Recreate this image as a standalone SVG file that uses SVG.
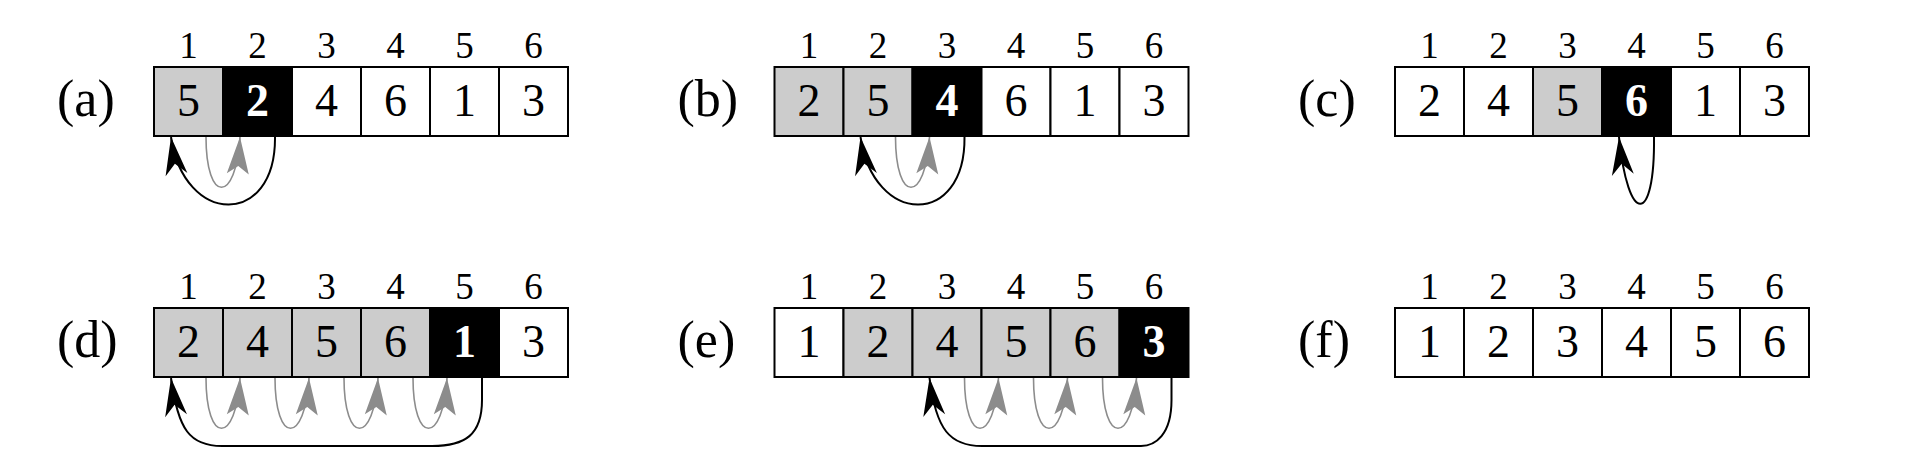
<svg xmlns="http://www.w3.org/2000/svg" width="1914" height="474" viewBox="0 0 1914 474">
<style>
.c{stroke:#000;stroke-width:2}
.w{fill:#fff}.g{fill:#cccccc}.k{fill:#000}
.d{font-family:"Liberation Serif",serif;font-size:46px;text-anchor:middle;fill:#000}
.db{font-family:"Liberation Serif",serif;font-size:46px;font-weight:bold;text-anchor:middle;fill:#fff}
.i{font-family:"Liberation Serif",serif;font-size:37px;text-anchor:middle;fill:#000}
.l{font-family:"Liberation Serif",serif;font-size:52px;fill:#000}
.ab{fill:none;stroke:#000;stroke-width:2}
.ag{fill:none;stroke:#8c8c8c;stroke-width:1.6}
</style>
<defs>
<marker id="hb" markerUnits="userSpaceOnUse" viewBox="-40 -13 42 26" markerWidth="42" markerHeight="26" refX="0" refY="0" orient="auto"><path d="M0,0 L-38,-11 L-27,0 L-38,11 Z" fill="#000"/></marker>
<marker id="hg" markerUnits="userSpaceOnUse" viewBox="-40 -13 42 26" markerWidth="42" markerHeight="26" refX="0" refY="0" orient="auto"><path d="M0,0 L-37,-11 L-29,0 L-37,11 Z" fill="#8c8c8c"/></marker>
</defs>

<g id="a">
<text class="l" x="57" y="116">(a)</text>
<rect class="c g" x="154" y="67" width="69" height="69"/><rect class="c k" x="223" y="67" width="69" height="69"/><rect class="c w" x="292" y="67" width="69" height="69"/><rect class="c w" x="361" y="67" width="69" height="69"/><rect class="c w" x="430" y="67" width="69" height="69"/><rect class="c w" x="499" y="67" width="69" height="69"/>
<text class="i" x="188.5" y="58">1</text><text class="i" x="257.5" y="58">2</text><text class="i" x="326.5" y="58">3</text><text class="i" x="395.5" y="58">4</text><text class="i" x="464.5" y="58">5</text><text class="i" x="533.5" y="58">6</text>
<text class="d" x="188.5" y="116">5</text><text class="db" x="257.5" y="116">2</text><text class="d" x="326.5" y="116">4</text><text class="d" x="395.5" y="116">6</text><text class="d" x="464.5" y="116">1</text><text class="d" x="533.5" y="116">3</text>
</g>

<g id="b">
<text class="l" x="677.5" y="116">(b)</text>
<rect class="c g" x="774.5" y="67" width="69" height="69"/><rect class="c g" x="843.5" y="67" width="69" height="69"/><rect class="c k" x="912.5" y="67" width="69" height="69"/><rect class="c w" x="981.5" y="67" width="69" height="69"/><rect class="c w" x="1050.5" y="67" width="69" height="69"/><rect class="c w" x="1119.5" y="67" width="69" height="69"/>
<text class="i" x="809" y="58">1</text><text class="i" x="878" y="58">2</text><text class="i" x="947" y="58">3</text><text class="i" x="1016" y="58">4</text><text class="i" x="1085" y="58">5</text><text class="i" x="1154" y="58">6</text>
<text class="d" x="809" y="116">2</text><text class="d" x="878" y="116">5</text><text class="db" x="947" y="116">4</text><text class="d" x="1016" y="116">6</text><text class="d" x="1085" y="116">1</text><text class="d" x="1154" y="116">3</text>
</g>

<g id="c">
<text class="l" x="1298" y="116">(c)</text>
<rect class="c w" x="1395" y="67" width="69" height="69"/><rect class="c w" x="1464" y="67" width="69" height="69"/><rect class="c g" x="1533" y="67" width="69" height="69"/><rect class="c k" x="1602" y="67" width="69" height="69"/><rect class="c w" x="1671" y="67" width="69" height="69"/><rect class="c w" x="1740" y="67" width="69" height="69"/>
<text class="i" x="1429.5" y="58">1</text><text class="i" x="1498.5" y="58">2</text><text class="i" x="1567.5" y="58">3</text><text class="i" x="1636.5" y="58">4</text><text class="i" x="1705.5" y="58">5</text><text class="i" x="1774.5" y="58">6</text>
<text class="d" x="1429.5" y="116">2</text><text class="d" x="1498.5" y="116">4</text><text class="d" x="1567.5" y="116">5</text><text class="db" x="1636.5" y="116">6</text><text class="d" x="1705.5" y="116">1</text><text class="d" x="1774.5" y="116">3</text>
</g>

<g id="d">
<text class="l" x="57" y="357">(d)</text>
<rect class="c g" x="154" y="308" width="69" height="69"/><rect class="c g" x="223" y="308" width="69" height="69"/><rect class="c g" x="292" y="308" width="69" height="69"/><rect class="c g" x="361" y="308" width="69" height="69"/><rect class="c k" x="430" y="308" width="69" height="69"/><rect class="c w" x="499" y="308" width="69" height="69"/>
<text class="i" x="188.5" y="299">1</text><text class="i" x="257.5" y="299">2</text><text class="i" x="326.5" y="299">3</text><text class="i" x="395.5" y="299">4</text><text class="i" x="464.5" y="299">5</text><text class="i" x="533.5" y="299">6</text>
<text class="d" x="188.5" y="357">2</text><text class="d" x="257.5" y="357">4</text><text class="d" x="326.5" y="357">5</text><text class="d" x="395.5" y="357">6</text><text class="db" x="464.5" y="357">1</text><text class="d" x="533.5" y="357">3</text>
</g>

<g id="e">
<text class="l" x="677.5" y="357">(e)</text>
<rect class="c w" x="774.5" y="308" width="69" height="69"/><rect class="c g" x="843.5" y="308" width="69" height="69"/><rect class="c g" x="912.5" y="308" width="69" height="69"/><rect class="c g" x="981.5" y="308" width="69" height="69"/><rect class="c g" x="1050.5" y="308" width="69" height="69"/><rect class="c k" x="1119.5" y="308" width="69" height="69"/>
<text class="i" x="809" y="299">1</text><text class="i" x="878" y="299">2</text><text class="i" x="947" y="299">3</text><text class="i" x="1016" y="299">4</text><text class="i" x="1085" y="299">5</text><text class="i" x="1154" y="299">6</text>
<text class="d" x="809" y="357">1</text><text class="d" x="878" y="357">2</text><text class="d" x="947" y="357">4</text><text class="d" x="1016" y="357">5</text><text class="d" x="1085" y="357">6</text><text class="db" x="1154" y="357">3</text>
</g>

<g id="f">
<text class="l" x="1298" y="357">(f)</text>
<rect class="c w" x="1395" y="308" width="69" height="69"/><rect class="c w" x="1464" y="308" width="69" height="69"/><rect class="c w" x="1533" y="308" width="69" height="69"/><rect class="c w" x="1602" y="308" width="69" height="69"/><rect class="c w" x="1671" y="308" width="69" height="69"/><rect class="c w" x="1740" y="308" width="69" height="69"/>
<text class="i" x="1429.5" y="299">1</text><text class="i" x="1498.5" y="299">2</text><text class="i" x="1567.5" y="299">3</text><text class="i" x="1636.5" y="299">4</text><text class="i" x="1705.5" y="299">5</text><text class="i" x="1774.5" y="299">6</text>
<text class="d" x="1429.5" y="357">1</text><text class="d" x="1498.5" y="357">2</text><text class="d" x="1567.5" y="357">3</text><text class="d" x="1636.5" y="357">4</text><text class="d" x="1705.5" y="357">5</text><text class="d" x="1774.5" y="357">6</text>
</g>

<g id="connectors">
<path class="ag" marker-end="url(#hg)" d="M206,137 C206,204 236,204 240,137"/>
<path class="ab" marker-end="url(#hb)" d="M275,137 C276,228 184,226 171,137"/>

<path class="ag" marker-end="url(#hg)" d="M895.5,137 C895.5,204 925.5,204 929.5,137"/>
<path class="ab" marker-end="url(#hb)" d="M964.5,137 C965.5,228 873.5,226 860.5,137"/>

<path class="ab" marker-end="url(#hb)" d="M1654,137 C1655,226 1628,226 1619,137"/>

<path class="ag" marker-end="url(#hg)" d="M206,378 C206,445 236,445 240,378"/>
<path class="ag" marker-end="url(#hg)" d="M275,378 C275,445 305,445 309,378"/>
<path class="ag" marker-end="url(#hg)" d="M344,378 C344,445 374,445 378,378"/>
<path class="ag" marker-end="url(#hg)" d="M413,378 C413,445 443,445 447,378"/>
<path class="ab" marker-end="url(#hb)" d="M482,378 L482,400 C482,435 465,446 432,446 L222,446 C190,446 178,430 171,378"/>

<path class="ag" marker-end="url(#hg)" d="M964.5,378 C964.5,445 994.5,445 998.5,378"/>
<path class="ag" marker-end="url(#hg)" d="M1033.5,378 C1033.5,445 1063.5,445 1067.5,378"/>
<path class="ag" marker-end="url(#hg)" d="M1102.5,378 C1102.5,445 1132.5,445 1136.5,378"/>
<path class="ab" marker-end="url(#hb)" d="M1171.5,378 L1171.5,400 C1171.5,435 1155,446 1141,446 L982,446 C950,446 936,430 929.5,378"/>
</g>
</svg>
